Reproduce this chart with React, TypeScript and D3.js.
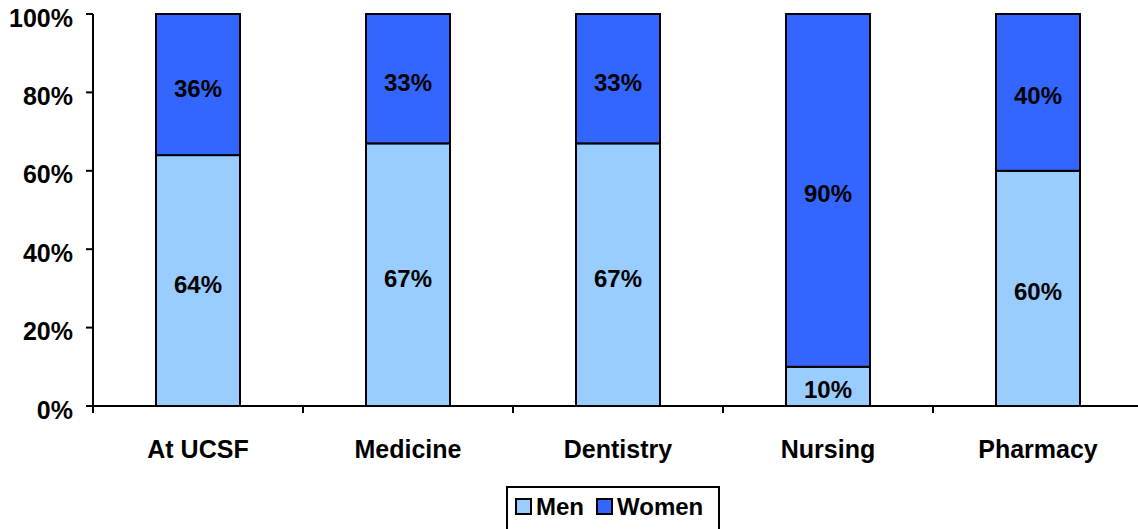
import React from "react";
import * as d3 from "d3";

const categories = ["At UCSF", "Medicine", "Dentistry", "Nursing", "Pharmacy"];
const menValues = [64, 67, 67, 10, 60];
const womenValues = [36, 33, 33, 90, 40];
const yTicks = [0, 20, 40, 60, 80, 100];
const seriesNames = ["Men", "Women"];
const seriesColors = ["#99CCFF", "#3366FF"];

const W = 1138;
const H = 529;
const plotLeft = 93;
const plotTop = 14;
const plotBottom = 406;
const bandW = 210;

export default function App() {
  const x = d3
    .scaleBand<string>()
    .domain(categories)
    .range([plotLeft, plotLeft + bandW * categories.length])
    .paddingInner(0)
    .paddingOuter(0);
  const y = d3.scaleLinear().domain([0, 100]).range([plotBottom, plotTop]);
  const barW = x.bandwidth() * 0.4;
  const font = "'Liberation Sans', Arial, sans-serif";

  const stacks = categories.map((c, i) => {
    const men = menValues[i];
    const women = womenValues[i];
    return [
      { key: "m", y0: 0, y1: men, v: men, color: seriesColors[0] },
      { key: "w", y0: men, y1: men + women, v: women, color: seriesColors[1] },
    ];
  });

  return (
    <div style={{ position: "fixed", left: 0, top: 0 }}>
      <svg width={W} height={H} style={{ display: "block", background: "#fff" }}>
        {/* bars */}
        {categories.map((c, i) => {
          const cx = (x(c) as number) + x.bandwidth() / 2;
          return (
            <g key={c}>
              {stacks[i].map((s) => (
                <g key={s.key}>
                  <rect
                    x={cx - barW / 2}
                    y={y(s.y1)}
                    width={barW}
                    height={y(s.y0) - y(s.y1)}
                    fill={s.color}
                    stroke="#000"
                    strokeWidth={2}
                  />
                  <text
                    x={cx}
                    y={(y(s.y0) + y(s.y1)) / 2}
                    dy="0.5em"
                    textAnchor="middle"
                    fontFamily={font}
                    fontWeight="bold"
                    fontSize={24}
                    fill="#000"
                  >
                    {s.v}%
                  </text>
                </g>
              ))}
            </g>
          );
        })}
        {/* y axis */}
        <line x1={plotLeft} x2={plotLeft} y1={plotTop} y2={plotBottom} stroke="#000" strokeWidth={2} />
        {yTicks.map((t) => (
          <g key={t}>
            <line x1={plotLeft - 7} x2={plotLeft} y1={y(t)} y2={y(t)} stroke="#000" strokeWidth={2} />
            <text
              x={plotLeft - 20}
              y={y(t)}
              dy="0.5em"
              textAnchor="end"
              fontFamily={font}
              fontWeight="bold"
              fontSize={25}
              fill="#000"
            >
              {t}%
            </text>
          </g>
        ))}
        {/* x axis */}
        <line
          x1={plotLeft}
          x2={plotLeft + bandW * categories.length}
          y1={plotBottom}
          y2={plotBottom}
          stroke="#000"
          strokeWidth={2}
        />
        {categories.map((c) => (
          <line
            key={"t" + c}
            x1={x(c) as number}
            x2={x(c) as number}
            y1={plotBottom}
            y2={plotBottom + 7}
            stroke="#000"
            strokeWidth={2}
          />
        ))}
        {categories.map((c) => (
          <text
            key={"l" + c}
            x={(x(c) as number) + x.bandwidth() / 2}
            y={458}
            textAnchor="middle"
            fontFamily={font}
            fontWeight="bold"
            fontSize={25}
            fill="#000"
          >
            {c}
          </text>
        ))}
        {/* legend */}
        <rect x={507} y={487} width={212} height={60} fill="#fff" stroke="#000" strokeWidth={2} />
        {seriesNames.map((n, i) => {
          const lx = i === 0 ? 516 : 597;
          return (
            <g key={n}>
              <rect x={lx} y={499} width={15} height={15} fill={seriesColors[i]} stroke="#000" strokeWidth={2} />
              <text
                x={lx + 20}
                y={515}
                fontFamily={font}
                fontWeight="bold"
                fontSize={24}
                fill="#000"
              >
                {n}
              </text>
            </g>
          );
        })}
      </svg>
    </div>
  );
}
